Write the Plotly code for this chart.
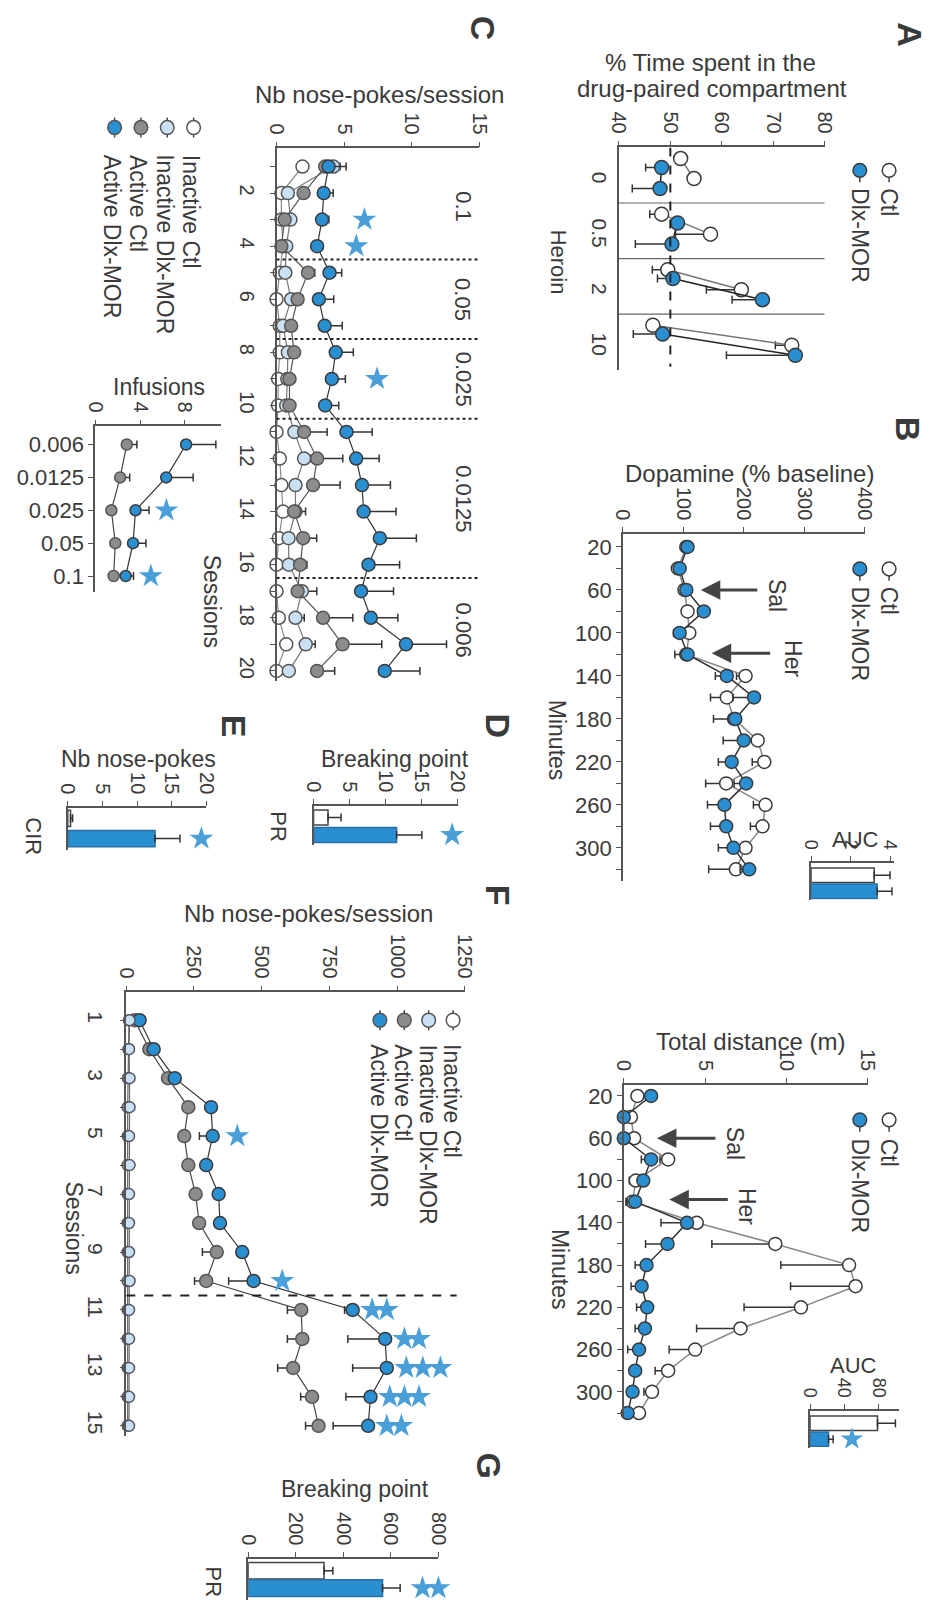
import plotly.graph_objects as go

W, H = 936, 1616
OFF = 8  # page body margin offset
FONT = "Liberation Sans, Arial, sans-serif"
TXT = "#3a3a3a"
AX = "#555555"
BLUE = "#2a8fd0"
GRAY = "#8c8c8c"
LBLUE = "#c9e0f5"
EDGE = "#3a3a3a"
STAR = "#4a9fd9"

# ---------------- Panel A ----------------
a_doses = ["0", "0.5", "2", "10"]
a_ctl_pre = [52.0, 48.3, 49.5, 46.6]
a_ctl_post = [54.6, 57.8, 63.8, 73.6]
a_dlx_pre = [48.3, 51.4, 50.5, 48.5]
a_dlx_post = [48.0, 50.3, 67.9, 74.3]
a_ctl_pre_err = [0.8, 2.3, 3.0, 1.0]
a_ctl_post_err = [1.0, 6.8, 6.8, 3.2]
a_dlx_pre_err = [3.1, 1.0, 3.0, 5.7]
a_dlx_post_err = [5.4, 7.1, 5.9, 13.4]

# ---------------- Panel B ----------------
b_minutes = [20, 40, 60, 80, 100, 120, 140, 160, 180, 200, 220, 240, 260, 280, 300, 320]
b_minute_labels = ["20", "", "60", "", "100", "", "140", "", "180", "", "220", "", "260", "", "300", ""]
dopa_ctl = [105, 91, 102, 107, 110, 105, 203, 172, 184, 223, 234, 171, 236, 231, 203, 187]
dopa_dlx = [107, 94, 105, 134, 94, 107, 172, 217, 186, 200, 180, 204, 168, 171, 183, 209]
dopa_ctl_err = [5, 5, 5, 8, 8, 8, 15, 27, 34, 15, 20, 34, 20, 20, 15, 45]
dopa_dlx_err = [5, 8, 5, 10, 10, 21, 19, 35, 10, 34, 22, 20, 28, 26, 25, 15]
dopa_auc = [3.2, 3.35]
dopa_auc_err = [0.8, 0.75]

dist_ctl = [0.84, 0.44, 0.64, 2.73, 0.74, 0.54, 4.49, 9.32, 13.86, 14.26, 10.9, 7.18, 4.39, 2.73, 1.74, 0.94]
dist_dlx = [1.68, 0.0, 0.0, 1.68, 1.2, 0.7, 3.89, 2.69, 1.4, 1.1, 1.44, 1.3, 0.94, 0.7, 0.54, 0.24]
dist_ctl_err = [0.3, 0.4, 0.3, 0.5, 0.4, 0.4, 0.8, 3.9, 4.2, 4.0, 3.5, 2.7, 1.6, 0.8, 0.5, 0.3]
dist_dlx_err = [0.2, 0.4, 0.1, 0.6, 0.3, 0.5, 1.6, 1.35, 0.7, 0.65, 0.65, 0.6, 0.7, 0.3, 0.3, 0.2]
dist_auc = [79, 21.6]
dist_auc_err = [21, 5.4]
dist_auc_star = [49]

# ---------------- Panel C ----------------
c_sessions = list(range(1, 21))
c_session_labels = [str(s) if s % 2 == 0 else "" for s in c_sessions]
c_act_dlx = [3.85, 3.49, 3.37, 3.0, 3.92, 3.13, 3.56, 4.38, 4.09, 3.6, 5.17, 5.89, 6.32, 6.44, 7.64, 6.8, 6.25, 6.97, 9.57, 8.0]
c_act_dlx_err = [1.3, 0.7, 0.5, 0.4, 0.9, 1.1, 1.3, 1.3, 1.0, 1.0, 1.9, 1.7, 2.1, 2.4, 2.7, 2.3, 2.4, 2.0, 3.0, 2.6]
c_act_ctl = [3.6, 2.0, 0.6, 0.36, 2.33, 1.56, 1.08, 1.3, 0.96, 0.96, 2.04, 3.0, 2.7, 1.3, 1.97, 1.75, 1.56, 3.44, 4.88, 3.0]
c_act_ctl_err = [0.5, 0.3, 0.2, 0.2, 0.5, 0.4, 0.3, 0.3, 0.3, 0.3, 1.7, 1.9, 2.0, 0.4, 1.0, 0.5, 0.4, 2.2, 2.9, 1.3]
c_inact_dlx = [4.2, 0.84, 1.03, 0.72, 0.65, 1.08, 0.48, 0.84, 0.8, 0.72, 1.32, 2.04, 1.4, 1.4, 0.89, 0.91, 1.88, 1.4, 2.16, 0.91]
c_inact_dlx_err = [0.5, 0.3, 0.3, 0.2, 0.2, 0.3, 0.2, 0.2, 0.2, 0.2, 0.4, 0.5, 0.4, 0.75, 0.3, 0.3, 1.1, 0.65, 0.7, 0.3]
c_inact_ctl = [1.92, 0.36, 0.36, 0.48, 0.24, 0.0, 0.24, 0.24, 0.12, 0.12, 0.0, 0.24, 0.36, 0.48, 0.17, 0.0, 0.0, 0.17, 0.72, 0.0]
c_inact_ctl_err = [0.2] * 20
c_dose_labels = ["0.1", "0.05", "0.025", "0.0125", "0.006"]
c_dose_bounds = [0.5, 4.5, 7.5, 10.5, 16.5, 20.4]
c_star_sessions = [3, 4, 9]
c_star_values = [6.5, 5.9, 7.43]

inf_doses = ["0.006", "0.0125", "0.025", "0.05", "0.1"]
inf_ctl = [2.82, 2.23, 1.45, 1.8, 1.65]
inf_ctl_err = [0.9, 0.85, 0.3, 0.3, 0.3]
inf_dlx = [8.1, 6.33, 3.6, 3.38, 2.72]
inf_dlx_err = [2.65, 2.4, 1.2, 1.15, 0.7]
inf_star_idx = [2, 4]
inf_star_values = [6.35, 4.96]

# ---------------- Panels D, E, G ----------------
d_bp = [2.0, 11.5]
d_bp_err = [1.8, 3.5]
d_star = [19.2]
e_cir = [0.4, 12.6]
e_cir_err = [0.3, 3.6]
e_star = [19.3]
g_bp = [319, 565]
g_bp_err = [37, 74]
g_star = [733, 800]

# ---------------- Panel F ----------------
f_sessions = list(range(1, 16))
f_session_labels = [str(s) if s % 2 == 1 else "" for s in f_sessions]
f_act_dlx = [49, 101, 179, 313, 319, 295, 341, 346, 428, 470, 836, 956, 962, 902, 893]
f_act_dlx_err = [5, 10, 10, 15, 49, 15, 15, 15, 20, 92, 30, 138, 126, 91, 129]
f_act_ctl = [31, 85, 154, 229, 214, 229, 256, 269, 334, 295, 646, 650, 616, 686, 710]
f_act_ctl_err = [5, 10, 10, 15, 15, 15, 15, 20, 53, 43, 51, 55, 57, 42, 48]
f_inact_ctl = [10, 8, 6, 5, 5, 5, 5, 5, 5, 5, 5, 5, 5, 5, 5]
f_inact_dlx = [12, 10, 12, 12, 10, 12, 10, 10, 10, 12, 10, 10, 10, 10, 10]
f_star_sessions = [5, 10, 11, 11, 12, 12, 13, 13, 13, 14, 14, 14, 15, 15]
f_star_values = [410, 576, 908, 962, 1027, 1081, 1034, 1095, 1160, 973, 1027, 1081, 962, 1016]

fig = go.Figure()


def ax_ids(n):
    return ("x", "y") if n == 1 else (f"x{n}", f"y{n}")


def series(x, y, n, fill, edge, lcolor, size=13, eplus=None, eminus=None, lw=1.5, mode="lines+markers"):
    xa, ya = ax_ids(n)
    err = None
    if eplus is not None or eminus is not None:
        m = len(x)
        err = dict(type="data", symmetric=False,
                   array=eplus if eplus is not None else [0] * m,
                   arrayminus=eminus if eminus is not None else [0] * m,
                   color="#333", thickness=1.5, width=4)
    fig.add_trace(go.Scatter(x=x, y=y, xaxis=xa, yaxis=ya, mode=mode,
                             marker=dict(size=size, color=fill, line=dict(color=edge, width=1.5)),
                             line=dict(color=lcolor, width=lw), error_x=err,
                             cliponaxis=False, hoverinfo="skip", showlegend=False))


def stars(x, y, n, size=18):
    xa, ya = ax_ids(n)
    fig.add_trace(go.Scatter(x=x, y=y, xaxis=xa, yaxis=ya, mode="markers",
                             marker=dict(symbol="star", size=size, color=STAR, line=dict(width=0)),
                             cliponaxis=False, hoverinfo="skip", showlegend=False))


def hbars(vals, errs, n, width):
    xa, ya = ax_ids(n)
    fig.add_trace(go.Bar(x=vals, y=[0, 1], orientation="h", xaxis=xa, yaxis=ya, width=width,
                         marker=dict(color=["white", BLUE], line=dict(color=["#444", "#2a6fa5"], width=1.5)),
                         error_x=dict(type="data", symmetric=False, array=errs, arrayminus=[0, 0],
                                      color="#333", thickness=1.5, width=4),
                         hoverinfo="skip", showlegend=False, cliponaxis=False))


def px(x):
    return (x - OFF) / W


def py(y):
    return 1 - (y - OFF) / H


def dx(a, b):
    return [px(a), px(b)]


def dy(top, bottom):
    return [py(bottom), py(top)]


def vaxis(x0, x1, rng, tickvals, size=20):
    return dict(domain=dx(x0, x1), range=rng, side="top", showline=True, linecolor=AX, linewidth=1.5,
                ticks="outside", ticklen=5, tickwidth=1.2, tickcolor=AX, tickangle=90,
                tickvals=tickvals, tickfont=dict(size=size, color=TXT, family=FONT),
                showgrid=False, zeroline=False, fixedrange=True)


def caxis(y0, y1, rng, tickvals=None, ticktext=None, angle=0, size=21, ticks="outside", show=True, standoff=None):
    d = dict(domain=dy(y0, y1), range=rng, showline=True, linecolor=AX, linewidth=1.5,
             ticks=ticks, ticklen=5, tickwidth=1.2, tickcolor=AX, tickangle=angle,
             tickfont=dict(size=size, color=TXT, family=FONT), showgrid=False, zeroline=False,
             showticklabels=show, fixedrange=True)
    if tickvals is not None:
        d["tickmode"] = "array"
        d["tickvals"] = tickvals
        d["ticktext"] = ticktext
    if standoff is not None:
        d["ticklabelstandoff"] = standoff
    return d


layout_axes = {}


def set_axes(n, xa, ya):
    kx = "xaxis" if n == 1 else f"xaxis{n}"
    ky = "yaxis" if n == 1 else f"yaxis{n}"
    xa["anchor"] = "y" if n == 1 else f"y{n}"
    ya["anchor"] = "x" if n == 1 else f"x{n}"
    layout_axes[kx] = xa
    layout_axes[ky] = ya


# ---------- Panel A (axes 1) ----------
off_ctl_pre, off_dlx_pre, off_ctl_post, off_dlx_post = 0.2, 0.36, 0.56, 0.74


def pairs(pre, post, o1, o2, e1, e2):
    xs, ys, es = [], [], []
    for i in range(len(pre)):
        xs += [pre[i], post[i], None]
        ys += [i + o1, i + o2, None]
        es += [e1[i], e2[i], 0]
    return xs, ys, es


xs, ys, es = pairs(a_ctl_pre, a_ctl_post, off_ctl_pre, off_ctl_post, a_ctl_pre_err, a_ctl_post_err)
series(xs, ys, 1, "white", EDGE, "#777", size=14, eminus=es)
xs, ys, es = pairs(a_dlx_pre, a_dlx_post, off_dlx_pre, off_dlx_post, a_dlx_pre_err, a_dlx_post_err)
series(xs, ys, 1, BLUE, EDGE, "#222", size=14, eminus=es)
set_axes(1, vaxis(623, 834, [40, 80], [40, 50, 60, 70, 80]),
         caxis(147, 370, [4, 0], [i + 0.6 for i in range(4)], a_doses, angle=90, size=21, ticks=""))
for i in range(1, 4):
    fig.add_shape(type="line", xref="x", yref="y", x0=40, x1=80, y0=i, y1=i, line=dict(color="#666", width=1.2))
fig.add_shape(type="line", xref="x", yref="y", x0=50, x1=50, y0=0, y1=3.95,
              line=dict(color="#222", width=2, dash="dash"))

# ---------- Panel B dopamine (axes 2) ----------
series(dopa_ctl, b_minutes, 2, "white", EDGE, "#888", eminus=dopa_ctl_err)
series(dopa_dlx, b_minutes, 2, BLUE, EDGE, "#333", eminus=dopa_dlx_err)
set_axes(2, vaxis(627, 875, [0, 400], [0, 100, 200, 300, 400]),
         caxis(535, 883, [330.6, 8], b_minutes, b_minute_labels, angle=0, size=22))

# AUC dopamine (axes 3)
hbars(dopa_auc, dopa_auc_err, 3, 0.9)
set_axes(3, vaxis(820, 905, [0, 4.2], [0, 2, 4], size=18),
         caxis(865, 902, [1.53, -0.78], ticks="", show=False))

# ---------- Panel B distance (axes 4) ----------
series(dist_ctl, b_minutes, 4, "white", EDGE, "#888", eminus=dist_ctl_err)
series(dist_dlx, b_minutes, 4, BLUE, EDGE, "#333", eminus=dist_dlx_err)
set_axes(4, vaxis(628, 878, [0, 15], [0, 5, 10, 15]),
         caxis(1088, 1420, [322.6, 9.6], b_minutes, b_minute_labels, angle=0, size=22))

# AUC distance (axes 5)
hbars(dist_auc, dist_auc_err, 5, 0.9)
stars(dist_auc_star, [1], 5, size=17)
set_axes(5, vaxis(819, 910, [0, 104], [0, 40, 80], size=18),
         caxis(1415, 1452, [1.53, -0.78], ticks="", show=False))

# ---------- Panel C (axes 6) ----------
series(c_inact_ctl, c_sessions, 6, "white", "#555", "#888", eplus=c_inact_ctl_err, lw=1.2)
series(c_inact_dlx, c_sessions, 6, LBLUE, "#555", "#777", eplus=c_inact_dlx_err, lw=1.2)
series(c_act_ctl, c_sessions, 6, GRAY, "#555", "#555", eplus=c_act_ctl_err, lw=1.2)
series(c_act_dlx, c_sessions, 6, BLUE, EDGE, "#333", eplus=c_act_dlx_err, lw=1.2)
stars(c_star_values, c_star_sessions, 6)
set_axes(6, vaxis(272, 480, [0, 15], [0, 5, 10, 15]),
         caxis(148, 683, [20.4, 0.32], c_sessions, c_session_labels, angle=90, size=20, standoff=6))
for b in c_dose_bounds[1:-1]:
    fig.add_shape(type="line", xref="x6", yref="y6", x0=0, x1=15, y0=b, y1=b,
                  line=dict(color="#222", width=2, dash="dot"))
for i, lab in enumerate(c_dose_labels):
    fig.add_annotation(text=lab, x=13.8, y=(c_dose_bounds[i] + c_dose_bounds[i + 1]) / 2,
                       xref="x6", yref="y6", showarrow=False, textangle=90,
                       font=dict(size=22, color=TXT, family=FONT))

# Infusions (axes 7)
inf_idx = list(range(len(inf_doses)))
series(inf_ctl, inf_idx, 7, GRAY, "#555", "#444", size=11, eplus=inf_ctl_err, lw=1.2)
series(inf_dlx, inf_idx, 7, BLUE, EDGE, "#333", size=11, eplus=inf_dlx_err, lw=1.2)
stars(inf_star_values, inf_star_idx, 7)
set_axes(7, vaxis(86, 215, [0, 11.2], [0, 4, 8]),
         caxis(427, 593, [4.48, -0.55], inf_idx, inf_doses, angle=0, size=22))

# ---------- Panel D (axes 8) ----------
hbars(d_bp, d_bp_err, 8, 0.86)
stars(d_star, [1], 8)
set_axes(8, vaxis(310, 458, [0, 20], [0, 5, 10, 15, 20]),
         caxis(808, 847, [1.57, -0.657], [0.71], ["PR"], angle=90, size=22, ticks="", standoff=14))

# ---------- Panel E (axes 9) ----------
hbars(e_cir, e_cir_err, 9, 0.8)
stars(e_star, [1], 9)
set_axes(9, vaxis(58, 200, [0, 20], [0, 5, 10, 15, 20]),
         caxis(810, 852, [1.56, -0.51], [1.05], ["CIR"], angle=90, size=22, ticks="", standoff=14))

# ---------- Panel F (axes 10) ----------
series(f_act_ctl, f_sessions, 10, GRAY, "#555", "#444", eminus=f_act_ctl_err, lw=1.2)
series(f_act_dlx, f_sessions, 10, BLUE, EDGE, "#333", eminus=f_act_dlx_err, lw=1.2)
series(f_inact_ctl, f_sessions, 10, "white", "#555", "#666", size=11, lw=1.2)
series(f_inact_dlx, f_sessions, 10, LBLUE, "#556", "#666", size=11, lw=1.2)
stars(f_star_values, f_star_sessions, 10)
set_axes(10, vaxis(118, 465, [0, 1250], [0, 250, 500, 750, 1000, 1250]),
         caxis(995, 1440, [15.34, 0.037], f_sessions, f_session_labels, angle=90, size=21, standoff=6))
fig.add_shape(type="line", xref="x10", yref="y10", x0=0, x1=1220, y0=10.5, y1=10.5,
              line=dict(color="#222", width=2, dash="dash"))

# ---------- Panel G (axes 11) ----------
hbars(g_bp, g_bp_err, 11, 0.95)
stars(g_star, [1, 1], 11)
set_axes(11, vaxis(243, 438, [0, 800], [0, 200, 400, 600, 800]),
         caxis(1564, 1605, [1.686, -0.657], [0.83], ["PR"], angle=90, size=22, ticks="", standoff=14))

# Arrows (Sal / Her)
for xr, yr, xt, yt, tail in [("x2", "y2", 129, 60, 58), ("x2", "y2", 147, 119, 60),
                             ("x4", "y4", 2.04, 60, 60), ("x4", "y4", 2.8, 118, 60)]:
    fig.add_annotation(x=xt, y=yt, xref=xr, yref=yr, ax=tail, ay=0, text="", showarrow=True,
                       arrowhead=2, arrowsize=1.3, arrowwidth=3, arrowcolor="#444")


def txt(t, x, y, size=23, angle=0, xanchor="center", yanchor="middle", bold=False):
    if bold:
        t = f"<b>{t}</b>"
    fig.add_annotation(text=t, x=px(x), y=py(y), xref="paper", yref="paper", showarrow=False,
                       textangle=angle, xanchor=xanchor, yanchor=yanchor,
                       font=dict(size=size, color=TXT, family=FONT))


def legsym(cx, cy, fill, edge, r=7, up=0, down=12):
    fig.add_shape(type="line", xref="paper", yref="paper", x0=px(cx), x1=px(cx),
                  y0=py(cy - up), y1=py(cy + down), line=dict(color="#444", width=1.5))
    fig.add_shape(type="circle", xref="paper", yref="paper", x0=px(cx - r), x1=px(cx + r),
                  y0=py(cy + r), y1=py(cy - r), fillcolor=fill, line=dict(color=edge, width=1.5))


# panel letters
for lab, x, y in [("A", 922, 34), ("B", 919, 430), ("C", 484, 27), ("D", 499, 728),
                  ("E", 228, 728), ("F", 499, 898), ("G", 490, 1470)]:
    txt(lab, x, y, size=34, angle=90, bold=True)

# Panel A texts
txt("% Time spent in the", 717, 62, size=24)
txt("drug-paired compartment", 718, 88, size=24)
txt("Heroin", 562, 262, size=22, angle=90)
legsym(900, 170, "white", EDGE)
legsym(870, 170, BLUE, EDGE)
txt("Ctl", 900, 186, size=23, angle=90, yanchor="top")
txt("Dlx-MOR", 870, 186, size=23, angle=90, yanchor="top")

# Panel B texts
txt("Dopamine (% baseline)", 757, 474, size=24)
txt("Minutes", 559, 742, size=23, angle=90)
legsym(900, 570, "white", EDGE)
legsym(870, 570, BLUE, EDGE)
txt("Ctl", 900, 586, size=23, angle=90, yanchor="top")
txt("Dlx-MOR", 870, 586, size=23, angle=90, yanchor="top")
txt("Sal", 785, 597, size=23, angle=90)
txt("Her", 802, 660, size=23, angle=90)
txt("AUC", 866, 842, size=22)

txt("Total distance (m)", 758, 1044, size=24)
txt("Minutes", 562, 1273, size=23, angle=90)
legsym(900, 1123, "white", EDGE)
legsym(870, 1123, BLUE, EDGE)
txt("Ctl", 900, 1140, size=23, angle=90, yanchor="top")
txt("Dlx-MOR", 870, 1140, size=23, angle=90, yanchor="top")
txt("Sal", 742, 1147, size=23, angle=90)
txt("Her", 755, 1210, size=23, angle=90)
txt("AUC", 864, 1370, size=22)

# Panel C texts
txt("Nb nose-pokes/session", 378, 94, size=24)
c_legend = [("Inactive Ctl", "white", 184), ("Inactive Dlx-MOR", LBLUE, 157),
            ("Active Ctl", GRAY, 130), ("Active Dlx-MOR", BLUE, 103)]
for lab, col, x in c_legend:
    legsym(x + 3, 127, col, "#555", up=10, down=10)
    txt(lab, x, 152, size=23, angle=90, yanchor="top")
txt("Sessions", 206, 602, size=23, angle=90)
txt("Infusions", 152, 387, size=23)

# D, E texts
txt("Breaking point", 393, 761, size=23)
txt("Nb nose-pokes", 130, 761, size=23)

# F texts
txt("Nb nose-pokes/session", 305, 916, size=24)
f_legend_x = [452, 427, 402, 377]
for (lab, col, _), x in zip(c_legend, f_legend_x):
    legsym(x + 1, 1023, col, "#555", up=10, down=10)
    txt(lab, x, 1045, size=23, angle=90, yanchor="top")
txt("Sessions", 64, 1183, size=23, angle=90, yanchor="top")

# G texts
txt("Breaking point", 352, 1494, size=23)

fig.update_layout(width=W, height=H, margin=dict(l=0, r=0, t=0, b=0),
                  paper_bgcolor="white", plot_bgcolor="white", showlegend=False,
                  font=dict(family=FONT, color=TXT), barmode="overlay", **layout_axes)

fig.write_html("out.html")
